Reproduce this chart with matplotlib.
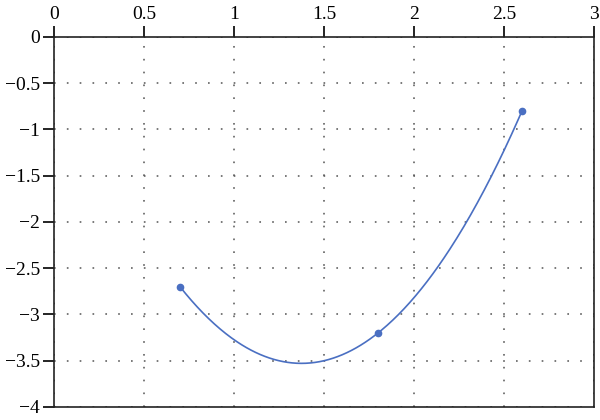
import numpy as np
import matplotlib.pyplot as plt

# Messpunkte
x_pts = [0.7, 1.8, 2.6]
y_pts = [-2.7, -3.2, -0.8]

x_ticks = [0, 0.5, 1, 1.5, 2, 2.5, 3]
y_ticks = [0, -0.5, -1, -1.5, -2, -2.5, -3, -3.5, -4]

plt.rcParams['font.family'] = ['Liberation Serif', 'DejaVu Serif']
plt.rcParams['axes.unicode_minus'] = True

fig = plt.figure(figsize=(6, 4.2), dpi=100)
ax = fig.add_axes([0.09, 0.031, 0.9, 0.881])

# glatte Kurve durch die drei Punkte (quadratischer Fit)
coef = np.polyfit(x_pts, y_pts, 2)
xs = np.linspace(min(x_pts), max(x_pts), 300)
ax.plot(xs, np.polyval(coef, xs), color='#4a6fc2', linewidth=1.2, zorder=3)
ax.plot(x_pts, y_pts, 'o', color='#4a6fc2', markersize=4.5, zorder=4)

ax.set_xlim(0, 3)
ax.set_ylim(-4, 0)
ax.set_xticks(x_ticks)
ax.set_xticklabels(['0', '0.5', '1', '1.5', '2', '2.5', '3'])
ax.set_yticks(y_ticks)
ax.set_yticklabels(['0', '\u22120.5', '\u22121', '\u22121.5', '\u22122',
                    '\u22122.5', '\u22123', '\u22123.5', '\u22124'])

ax.xaxis.tick_top()
ax.tick_params(axis='x', direction='out', length=8, width=1.2, labelsize=14, pad=2)
ax.tick_params(axis='y', direction='out', length=8, width=1.2, labelsize=14, pad=2)

for s in ax.spines.values():
    s.set_linewidth(1.2)
    s.set_color('#222222')

ax.grid(True, color='#555555', linewidth=1.1, linestyle=(0, (1.1, 7.3)))
ax.set_axisbelow(True)

plt.savefig('out.png', dpi=100)
